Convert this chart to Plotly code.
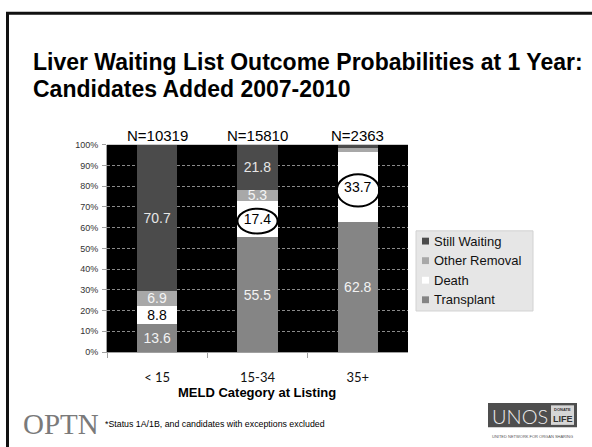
import plotly.graph_objects as go

# MELD category groups and their sizes
categories = ["< 15", "15-34", "35+"]
group_sizes = [10319, 15810, 2363]

# Outcome probabilities at 1 year (%), stacked bottom to top
transplant = [13.6, 55.5, 62.8]
death = [8.8, 17.4, 33.7]
other_removal = [6.9, 5.3, 2.0]
still_waiting = [70.7, 21.8, 1.5]

# Segments too thin to carry a label
min_labelled = 3.0

W, H = 592, 447
FONT = "Arial, Liberation Sans, sans-serif"

series = [
    ("Transplant", transplant, "#858585", "#f2f2f2"),
    ("Death", death, "#ffffff", "#000000"),
    ("Other Removal", other_removal, "#a8a8a8", "#f4f4f4"),
    ("Still Waiting", still_waiting, "#4b4b4b", "#e6e6e6"),
]

fig = go.Figure()
for name, vals, color, txtcolor in series:
    fig.add_trace(go.Bar(
        name=name,
        x=categories,
        y=vals,
        width=0.4,
        marker=dict(color=color, line=dict(width=0)),
        text=[f"{v:.1f}" if v >= min_labelled else "" for v in vals],
        textposition="inside",
        insidetextanchor="middle",
        textangle=0,
        constraintext="none",
        textfont=dict(family=FONT, size=14, color=txtcolor),
        hoverinfo="skip",
        showlegend=False,
    ))

# Pixel placement of the plotting area
px_left, px_right, px_top, px_bottom = 107, 408, 143, 355


def py(pix):
    """Convert a pixel row (from top) to paper y."""
    return 1 - pix / H


def px(pix):
    """Convert a pixel column (from left) to paper x."""
    return pix / W


annotations = []
shapes = []


def label(x, y, text, size, color="#000000", family=FONT, anchor="center", weight="normal"):
    annotations.append(dict(
        x=px(x), y=py(y), xref="paper", yref="paper", xanchor=anchor, yanchor="middle",
        showarrow=False, text=text,
        font=dict(family=family, size=size, color=color, weight=weight),
    ))


def box(x0, x1, y0, y1, fill, line=None):
    shapes.append(dict(
        type="rect", xref="paper", yref="paper",
        x0=px(x0), x1=px(x1), y0=py(y1), y1=py(y0),
        fillcolor=fill, line=line or dict(width=0),
    ))


# Group sizes above the bars
for cat, n in zip(categories, group_sizes):
    annotations.append(dict(
        x=cat, y=100, xref="x", yref="y", text=f"N={n}", showarrow=False,
        yanchor="bottom", yshift=-1, font=dict(family=FONT, size=15, color="#000000"),
    ))

# Title, two lines
label(31, 58, "<b>Liver Waiting List Outcome Probabilities at 1 Year:</b>", 23, anchor="left")
label(31, 86, "<b>Candidates Added 2007-2010</b>", 23, anchor="left")

# Axis title
label(257, 396, "<b>MELD Category at Listing</b>", 13)

# Legend, top entry first
box(416, 533, 231, 313, "#e6e6e6", dict(color="#d2d2d2", width=1))
for i, (name, _vals, color, _tc) in enumerate(reversed(series)):
    row = 241.5 + 20 * i
    box(422, 429, row - 3.5, row + 3.5, color)
    label(432, row, name, 13, color="#111111", anchor="left")

# Footer: OPTN mark and note
label(21, 429, "OPTN", 29, color="#7a7a7a",
      family="Liberation Serif, Times New Roman, serif", anchor="left")
label(103, 429, "*Status 1A/1B, and candidates with exceptions excluded", 8.8, anchor="left")

# UNOS / Donate Life mark
box(488, 577, 407, 432, "#4e4e4e")
box(551, 574, 409.5, 429.5, "#d6d6d6")
label(519.5, 420, "UNOS", 20, color="#ececec", family="Lato, DejaVu Sans, sans-serif", weight=300)
label(562.5, 414, "<b>DONATE</b>", 4, color="#333333")
label(562.5, 423, "<b>LIFE</b>", 9, color="#333333")
label(532, 441, "UNITED NETWORK FOR ORGAN SHARING", 4, color="#555555")

# Slide frame
shapes.append(dict(type="rect", xref="paper", yref="paper", x0=px(7.5), x1=1.05, y0=-0.05, y1=py(8.5),
                   line=dict(color="#111111", width=3), layer="below"))

# Highlight rings around the death probabilities of the higher MELD groups
for idx in (1, 2):
    base = transplant[idx]
    mid = base + death[idx] / 2
    half = 6 if idx == 1 else 7.8
    shift = -1.0 if idx == 1 else -1.6
    shapes.append(dict(
        type="circle", xref="x", yref="y",
        x0=idx - 0.2 - (0.01 if idx == 2 else 0), x1=idx + 0.2 + (0.015 if idx == 2 else 0),
        y0=mid + shift - half, y1=mid + shift + half,
        line=dict(color="#000000", width=2),
    ))

fig.update_layout(
    width=W, height=H,
    margin=dict(l=0, r=0, t=0, b=0),
    paper_bgcolor="#ffffff",
    plot_bgcolor="#000000",
    barmode="stack",
    showlegend=False,
    xaxis=dict(
        domain=[px(px_left), px(px_right)],
        type="category", range=[-0.5, 2.5],
        showgrid=False, showline=True, linecolor="#a0a0a0", linewidth=1,
        ticks="outside", tickson="boundaries", ticklen=5, tickcolor="#a0a0a0",
        tickfont=dict(family="Lato, Open Sans, sans-serif", size=13, color="#111111"),
        ticklabelstandoff=13,
    ),
    yaxis=dict(
        domain=[py(px_bottom), py(px_top)],
        range=[0, 100], dtick=10, ticksuffix="%",
        showgrid=True, gridcolor="#8a8a8a", gridwidth=1, griddash="3px,2px",
        zeroline=False, showline=True, linecolor="#a0a0a0",
        ticks="outside", ticklen=4, tickcolor="#a0a0a0",
        tickfont=dict(family=FONT, size=9, color="#333333"),
        ticklabelstandoff=2,
    ),
    annotations=annotations,
    shapes=shapes,
)

fig.write_html("out.html")
